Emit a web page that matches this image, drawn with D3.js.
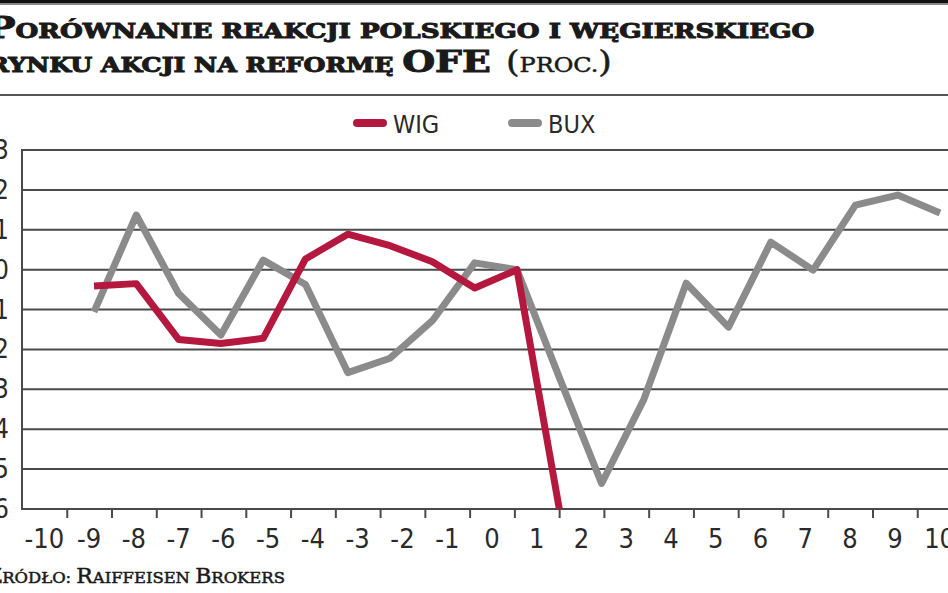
<!DOCTYPE html>
<html><head><meta charset="utf-8">
<script src="https://cdn.jsdelivr.net/npm/d3@7"></script>
<style>
body{margin:0;background:#fff;overflow:hidden}
.lab{font-family:"DejaVu Sans Condensed","DejaVu Sans",sans-serif;font-stretch:condensed;fill:#2a2a2a}
.ttl{font-family:"DejaVu Serif",serif;font-weight:bold;fill:#1a1a1a;stroke:#1a1a1a;stroke-width:1}
.src{font-family:"DejaVu Serif",serif;fill:#1a1a1a;stroke:#1a1a1a;stroke-width:0.5}
</style></head><body>
<svg id="c" width="948" height="593"></svg>
<script>
// ---- data ----
const days = [-10,-9,-8,-7,-6,-5,-4,-3,-2,-1,0,1,2,3,4,5,6,7,8,9,10];
const xTickLabels = [-10,-9,-8,-7,-6,-5,-4,-3,-2,-1,0,1,2,3,4,5,6,7,8,9,10];
const yTickValues = [3,2,1,0,-1,-2,-3,-4,-5,-6];
const wigValues = [-0.41,-0.35,-1.75,-1.85,-1.72,0.27,0.89,0.6,0.2,-0.46,0.0,-6.0,null,null,null,null,null,null,null,null,null];
const buxValues = [-1.06,1.37,-0.6,-1.64,0.24,-0.37,-2.58,-2.22,-1.28,0.17,0.0,-2.7,-5.36,-3.25,-0.34,-1.44,0.69,-0.01,1.62,1.87,1.42];
const seriesNames = ["WIG","BUX"];
const seriesColors = ["#b5183f","#8b8b8b"];

const svg = d3.select("#c");
const W = 948;

// top bar & separators
svg.append("rect").attr("x",0).attr("y",0).attr("width",W).attr("height",3.5).attr("fill","#111");
svg.append("line").attr("x1",0).attr("x2",W).attr("y1",4.5).attr("y2",4.5).attr("stroke","#888").attr("stroke-width",1);
svg.append("line").attr("x1",0).attr("x2",W).attr("y1",95).attr("y2",95).attr("stroke","#555").attr("stroke-width",2);

function fit(sel, x0, x1){
  const bb = sel.node().getBBox();
  const s = (x1-x0)/bb.width;
  sel.attr("transform",`translate(${x0},0) scale(${s},1) translate(${-bb.x},0)`);
}

// title
const t1 = svg.append("text").attr("class","ttl").attr("x",0).attr("y",38);
t1.append("tspan").attr("font-size",29).text("P");
t1.append("tspan").attr("font-size",20).text("ORÓWNANIE REAKCJI POLSKIEGO I WĘGIERSKIEGO");
fit(t1,-13,815);

const t2 = svg.append("text").attr("class","ttl").attr("x",0).attr("y",72);
t2.append("tspan").attr("font-size",20).text("RYNKU AKCJI NA REFORMĘ ");
t2.append("tspan").attr("font-size",30).text("OFE");
fit(t2,-12,491);

const t3 = svg.append("text").attr("class","src").attr("x",0).attr("y",72);
t3.append("tspan").attr("font-size",29).text("(");
t3.append("tspan").attr("font-size",20).text("PROC.");
t3.append("tspan").attr("font-size",29).text(")");
fit(t3,506,612);

// scales
const x = d3.scaleLinear().domain([-10.5,10.5]).range([22,962]);
const xData = d3.scalePoint().domain(days).range([94,940]);
const y = d3.scaleLinear().domain([-6,3]).range([509,150]);

// gridlines
svg.append("g").selectAll("line").data(yTickValues).join("line")
  .attr("x1",22).attr("x2",W).attr("y1",d=>y(d)).attr("y2",d=>y(d))
  .attr("stroke","#4a4a4a").attr("stroke-width",2);
// left axis
svg.append("line").attr("x1",22).attr("x2",22).attr("y1",y(3)-1).attr("y2",y(-6)+1).attr("stroke","#4a4a4a").attr("stroke-width",2);

// x ticks at band boundaries
const tickPos = xTickLabels.slice(0,-1).map(d=>d+0.5);
const ax = svg.append("g").attr("transform",`translate(0,${y(-6)})`)
  .call(d3.axisBottom(x).tickValues(tickPos).tickSize(9).tickFormat(""));
ax.select(".domain").remove();
ax.selectAll(".tick line").attr("stroke","#4a4a4a").attr("stroke-width",2);

// x labels
svg.append("g").selectAll("text").data(xTickLabels).join("text")
  .attr("class","lab").attr("x",d=>x(d)).attr("y",548).attr("text-anchor","middle")
  .attr("font-size",27).text(d=>d);

// y labels (cropped at left edge)
svg.append("g").selectAll("text").data(yTickValues).join("text")
  .attr("class","lab").attr("x",9).attr("y",d=>y(d)+9).attr("text-anchor","end")
  .attr("font-size",26).text(d=>d);

// lines
const line = d3.line().defined(d=>d[1]!==null).x(d=>xData(d[0])).y(d=>y(d[1]));
const series = [buxValues, wigValues];
const cols = [seriesColors[1], seriesColors[0]];
series.forEach((vals,i)=>{
  svg.append("path").datum(days.map((d,j)=>[d,vals[j]]))
    .attr("d",line).attr("fill","none").attr("stroke",cols[i])
    .attr("stroke-width",7).attr("stroke-linejoin","round").attr("stroke-linecap","butt");
});

// legend
const legX = [357,512];
seriesNames.forEach((n,i)=>{
  svg.append("line").attr("x1",legX[i]).attr("x2",legX[i]+26).attr("y1",123).attr("y2",123)
    .attr("stroke",seriesColors[i]).attr("stroke-width",8).attr("stroke-linecap","round");
  svg.append("text").attr("class","lab").attr("x",legX[i]+36).attr("y",133)
    .attr("font-size",25).text(n);
});

// source
const s = svg.append("text").attr("class","src").attr("x",0).attr("y",583);
s.append("tspan").attr("font-size",20).text("Ź");
s.append("tspan").attr("font-size",15).text("RÓDŁO: ");
s.append("tspan").attr("font-size",20).text("R");
s.append("tspan").attr("font-size",15).text("AIFFEISEN ");
s.append("tspan").attr("font-size",20).text("B");
s.append("tspan").attr("font-size",15).text("ROKERS");
fit(s,-13,285);
</script>
</body></html>
